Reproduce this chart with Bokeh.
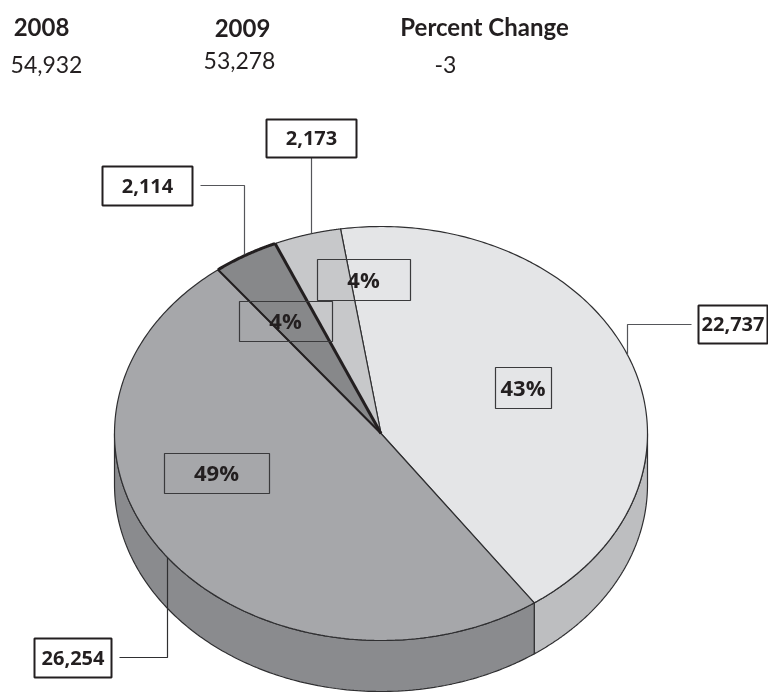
import numpy as np
from bokeh.plotting import figure
from bokeh.embed import file_html
from bokeh.resources import INLINE
from bokeh.core.properties import value

# ---- data ----
slice_values = [22737, 2173, 2114, 26254]
slice_labels = ["22,737", "2,173", "2,114", "26,254"]
pct_labels = ["43%", "4%", "4%", "49%"]
header_labels = ["2008", "2009", "Percent Change"]
header_values = ["54,932", "53,278", "-3"]

# ---- styling / layout ----
top_colors = ["#e4e5e7", "#c7c8ca", "#87888a", "#a6a7aa"]
side_colors = ["#bdbec0", "#bdbec0", "#87888a", "#8a8b8e"]
CX, CY, RX, RY, DEPTH = 380.5, 433.0, 266.5, 207.0, 51.0
START_DEG = -54.9
EDGE = "#2f2f31"
FONT = "Open Sans"
HEAD = "Lato"

p = figure(width=768, height=692, x_range=(0, 768), y_range=(692, 0),
           output_backend="svg", toolbar_location=None,
           min_border=0, outline_line_color=None)
p.axis.visible = False
p.grid.visible = False
p.background_fill_color = "white"
p.border_fill_color = "white"
p.styles = {"position": "fixed", "left": "0px", "top": "0px"}


def ell(t_deg, dy=0.0):
    t = np.radians(t_deg)
    return CX + RX * np.cos(t), CY - RY * np.sin(t) + dy


totals = np.cumsum([0] + slice_values) / sum(slice_values) * 360.0
starts = START_DEG + totals[:-1]
ends = START_DEG + totals[1:]

# side wall: only the front half (param angle -180 .. 0) is visible
for a0, a1, col in zip(starts, ends, side_colors):
    for shift in (0.0, -360.0):
        lo, hi = max(a0 + shift, -180.0), min(a1 + shift, 0.0)
        if hi <= lo:
            continue
        ts = np.linspace(lo, hi, 160)
        x1, y1 = ell(ts)
        x2, y2 = ell(ts[::-1], DEPTH)
        p.patch(np.r_[x1, x2], np.r_[y1, y2], fill_color=col,
                line_color=EDGE, line_width=1.2)

# top face
for a0, a1, col in zip(starts, ends, top_colors):
    ts = np.linspace(a0, a1, 200)
    x, y = ell(ts)
    p.patch(np.r_[CX, x], np.r_[CY, y], fill_color=col,
            line_color=EDGE, line_width=1.2)

# heavier outline of the dark slice
ts = np.linspace(starts[2], ends[2], 60)
x, y = ell(ts)
p.line(x, y, line_color="#231f20", line_width=3)
p.line([CX, x[0]], [CY, y[0]], line_color="#231f20", line_width=3)
p.line([CX, x[-1]], [CY, y[-1]], line_color="#231f20", line_width=2)

# leader lines
p.line([691, 627, 627], [324, 324, 355], line_color="#55565a", line_width=1.2)
p.line([311, 311], [157, 233], line_color="#55565a", line_width=1.2)
p.line([200, 244, 244], [185, 185, 254], line_color="#55565a", line_width=1.2)
p.line([119, 167, 167], [657, 657, 557], line_color="#2f2f31", line_width=1.2)

# callout boxes (left, right, top, bottom)
call_boxes = [(698, 767, 305, 343), (266, 356, 119, 157), (102, 192, 166, 205), (34, 111, 638, 677)]
for (l, r, t, b), txt in zip(call_boxes, slice_labels):
    p.quad(left=l, right=r, top=t, bottom=b, fill_color="white",
           line_color="#231f20", line_width=2)
    p.text([(l + r) / 2], [(t + b) / 2 - 0.5], text=[txt], text_align="center",
           text_baseline="middle", text_font=value(FONT), text_font_style="bold",
           text_font_size="20px", text_color="#231f20")

# percent boxes
pct_boxes = [(495, 551, 367, 408), (317, 410, 259, 300), (239, 332, 301, 341), (164, 269, 453, 493)]
for (l, r, t, b), txt in zip(pct_boxes, pct_labels):
    p.quad(left=l, right=r, top=t, bottom=b, fill_color=None,
           line_color="#3a3a3c", line_width=1.2)
    p.text([(l + r) / 2 - 0.5], [(t + b) / 2 - 1.5], text=[txt], text_align="center",
           text_baseline="middle", text_font=value(FONT), text_font_style="bold",
           text_font_size="22px", text_color="#231f20")

# header table
hx = [41, 242, 484]
hy = [26, 27, 26]
vx = [46, 239, 445]
vy = [64, 60, 64]
p.text(hx, hy, text=header_labels, text_align="center", text_baseline="middle",
       text_font=value(HEAD), text_font_style="bold", text_font_size="24px",
       text_color="#231f20")
p.text(vx, vy, text=header_values, text_align="center", text_baseline="middle",
       text_font=value(HEAD), text_font_size="23px", text_color="#231f20")

open("out.html", "w").write(file_html(p, INLINE))
